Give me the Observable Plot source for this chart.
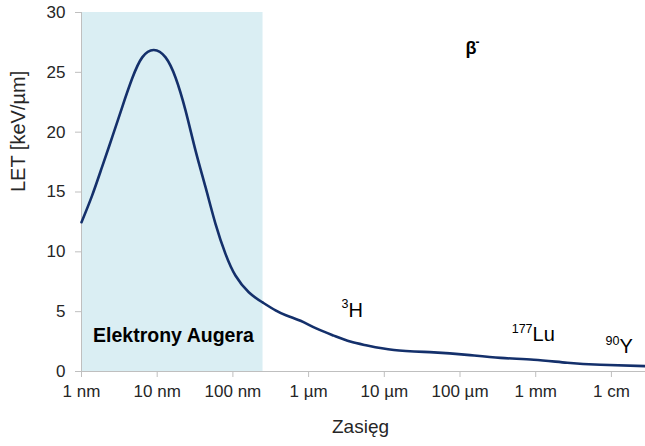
<!DOCTYPE html>
<html>
<head>
<meta charset="utf-8">
<script src="https://cdn.jsdelivr.net/npm/d3@7"></script>
<script src="https://cdn.jsdelivr.net/npm/@observablehq/plot@0.6"></script>
<style>
  html, body { margin: 0; padding: 0; background: #fff; }
  #chart { width: 645px; height: 446px; }
  svg { font-family: "Liberation Sans", Arial, sans-serif; }
</style>
</head>
<body>
<div id="chart"></div>
<script>
// Range in nanometres (log scale) and LET in keV/µm
const rangeNm = [1, 1.38, 1.87, 2.55, 3.45, 4.68, 6.34, 9.02, 12.9, 17.5, 23.7, 32.1, 43.5, 58.9, 79.8, 108, 162, 244, 366, 501, 782, 1260, 2150, 3550, 5940, 13400, 45100, 124000, 343000, 944000, 2610000, 7180000, 28200000];
const letValues = [12.47, 14.7, 17.1, 19.6, 22.1, 24.5, 26.25, 26.87, 26.25, 24.55, 21.8, 18.46, 15.4, 12.34, 9.83, 8.02, 6.62, 5.79, 5.1, 4.7, 4.24, 3.6, 3.0, 2.5, 2.17, 1.8, 1.6, 1.39, 1.14, 0.98, 0.73, 0.56, 0.45];

// x axis ticks
const xTickValues = [1, 10, 100, 1000, 10000, 100000, 1000000, 10000000];
const xTickLabels = ["1 nm", "10 nm", "100 nm", "1 µm", "10 µm", "100 µm", "1 mm", "1 cm"];
const yTickValues = [0, 5, 10, 15, 20, 25, 30];

// Auger electron region
const augerStart = [1];
const augerEnd = [250];
const augerLabel = ["Elektrony Augera"];
const augerLabelX = [16.4];
const augerLabelY = [2.97];

// Isotope labels
const isotopeMass = ["3", "177", "90"];
const isotopeName = ["H", "Lu", "Y"];
const isotopeX = [3370, 908000, 12800000];
const isotopeY = [5.1, 3.05, 2.05];

// Beta label
const betaLabel = ["β"];
const betaSup = ["-"];
const betaX = [118000];
const betaY = [27.0];

const xDomain = [1, 28200000];
const yDomain = [0, 30];

const curve = rangeNm.map((x, i) => ({x, y: letValues[i]}));
const tickLabel = new Map(xTickValues.map((v, i) => [v, xTickLabels[i]]));
const auger = augerStart.map((s, i) => ({x1: s, x2: augerEnd[i]}));
const augerText = augerLabel.map((t, i) => ({t, x: augerLabelX[i], y: augerLabelY[i]}));
const iso = isotopeName.map((n, i) => ({n, m: isotopeMass[i], x: isotopeX[i], y: isotopeY[i]}));
const beta = betaLabel.map((t, i) => ({t, s: betaSup[i], x: betaX[i], y: betaY[i]}));

const axisGray = "#bfbfbf";
const textColor = "#262626";

const chart = Plot.plot({
  width: 645,
  height: 446,
  marginLeft: 81,
  marginRight: 0,
  marginTop: 12,
  marginBottom: 75,
  style: {fontFamily: "'Liberation Sans', Arial, sans-serif", background: "#fff"},
  x: {type: "log", domain: xDomain},
  y: {domain: yDomain},
  marks: [
    Plot.rect(auger, {x1: "x1", x2: "x2", y1: yDomain[0], y2: yDomain[1], fill: "#daeef3"}),
    Plot.ruleX([xDomain[0]], {stroke: axisGray, strokeWidth: 1}),
    Plot.ruleY([0], {stroke: axisGray, strokeWidth: 1}),
    Plot.axisX({ticks: xTickValues, tickFormat: d => tickLabel.get(d), tickSize: 6, tickPadding: 7, fontSize: 17, stroke: axisGray, fill: textColor, label: null}),
    Plot.axisY({ticks: yTickValues, tickSize: 6, tickPadding: 10, fontSize: 17, stroke: axisGray, fill: textColor, label: null}),
    Plot.line(curve, {x: "x", y: "y", curve: "natural", stroke: "#14306b", strokeWidth: 2.6}),
    Plot.text(augerText, {x: "x", y: "y", text: "t", fontSize: 19.5, fontWeight: "bold", fill: "#000", textAnchor: "middle"}),
    Plot.text(iso, {x: "x", y: "y", text: "n", fontSize: 20, fill: "#000", textAnchor: "start"}),
    Plot.text(iso, {x: "x", y: "y", text: "m", fontSize: 12.5, fill: "#000", textAnchor: "end", dy: -6}),
    Plot.text(beta, {x: "x", y: "y", text: "t", fontSize: 18, fontWeight: "bold", fill: "#000", textAnchor: "start"}),
    Plot.text(beta, {x: "x", y: "y", text: "s", fontSize: 12, fontWeight: "bold", fill: "#000", textAnchor: "start", dx: 10, dy: -6}),
    Plot.text(["LET [keV/µm]"], {frameAnchor: "left", text: d => d, rotate: -90, dx: -63, fontSize: 20, fill: textColor}),
    Plot.text(["Zasięg"], {frameAnchor: "bottom", text: d => d, dx: -3, dy: 61, fontSize: 19, fill: textColor})
  ]
});
document.getElementById("chart").appendChild(chart);
</script>
</body>
</html>
